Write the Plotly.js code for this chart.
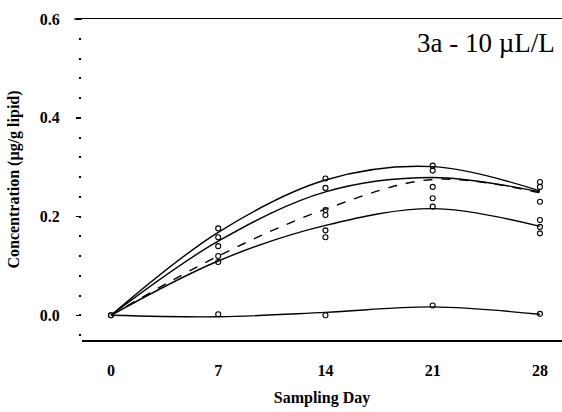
<!DOCTYPE html>
<html>
<head>
<meta charset="utf-8">
<script src="https://cdn.plot.ly/plotly-3.0.1.min.js"></script>
<style>html,body{margin:0;padding:0;background:#fff;}#chart{width:562px;height:412px;}</style>
</head>
<body>
<div id="chart"></div>
<script>
// Sampling days
const days = [0, 7, 14, 21, 28];
// Fitted curves
const curveA = [0, 0.168, 0.274, 0.301, 0.252];
const curveB = [0, 0.150, 0.250, 0.279, 0.250];
const curveC = [0, 0.120, 0.215, 0.275, 0.248];
const curveD = [0, 0.110, 0.182, 0.216, 0.180];
const curveE = [0, -0.003, 0.006, 0.017, 0.002];
// Replicate observations
const repDays = [0, 0, 7, 7, 7, 7, 7, 14, 14, 14, 14, 14, 14, 21, 21, 21, 21, 21, 28, 28, 28, 28, 28, 28, 7, 14, 21, 28];
const repVals = [0, 0, 0.176, 0.158, 0.140, 0.120, 0.108, 0.277, 0.258, 0.213, 0.203, 0.172, 0.158, 0.303, 0.293, 0.260, 0.237, 0.220, 0.270, 0.260, 0.230, 0.193, 0.179, 0.166, 0.002, 0.000, 0.020, 0.003];
const xTicks = [0, 7, 14, 21, 28];
const yTicks = [0.0, 0.2, 0.4, 0.6];
const yTickText = ['0.0', '0.2', '0.4', '0.6'];

function curve(y, dash) {
  return {x: days, y: y, type: 'scatter', mode: 'lines',
    line: {color: '#000', width: 1.4, shape: 'spline', smoothing: 1, dash: dash || 'solid'},
    hoverinfo: 'skip', showlegend: false};
}
const traces = [
  curve(curveA), curve(curveB), curve(curveC, 'dash'), curve(curveD), curve(curveE),
  {x: repDays, y: repVals, type: 'scatter', mode: 'markers',
   marker: {symbol: 'circle-open', size: 5, color: '#000', line: {width: 1.1, color: '#000'}},
   showlegend: false}
];
const serif = 'Liberation Serif, Times New Roman, serif';
const layout = {
  width: 562, height: 412,
  margin: {l: 82, r: 0, t: 19, b: 72},
  paper_bgcolor: '#fff', plot_bgcolor: '#fff',
  showlegend: false,
  font: {family: serif, color: '#000'},
  xaxis: {
    range: [-1.89, 29.44], tickvals: xTicks, ticktext: xTicks.map(String),
    showgrid: false, zeroline: false, showline: true, mirror: true,
    linecolor: '#000', linewidth: 1.5, ticks: '', ticklabelstandoff: 15,
    tickfont: {family: serif, size: 16, color: '#000', weight: 'bold'},
    title: {text: 'Sampling Day', standoff: 14, font: {family: serif, size: 16, color: '#000', weight: 'bold'}}
  },
  yaxis: {
    range: [-0.05, 0.6], tickvals: yTicks, ticktext: yTickText,
    showgrid: false, zeroline: false, showline: false,
    ticks: 'outside', ticklen: 5, tickwidth: 1.5, tickcolor: '#000',
    ticklabelstandoff: 13,
    minor: {dtick: 0.04, tick0: 0, ticks: 'outside', ticklen: 2, tickwidth: 2, tickcolor: '#000'},
    tickfont: {family: serif, size: 16, color: '#000', weight: 'bold'},
    title: {text: 'Concentration (µg/g lipid)', standoff: 16, font: {family: serif, size: 16, color: '#000', weight: 'bold'}}
  },
  shapes: [{type: 'line', xref: 'paper', yref: 'paper', x0: -0.016, x1: 0, y0: 1, y1: 1,
    line: {color: '#000', width: 1.5}}],
  annotations: [{
    text: '3a - 10 µL/L', xref: 'paper', yref: 'paper', x: 0.99, y: 0.925,
    xanchor: 'right', yanchor: 'middle', showarrow: false,
    font: {family: serif, size: 27, color: '#000'}
  }]
};
Plotly.newPlot('chart', traces, layout, {displayModeBar: false, staticPlot: true});
</script>
</body>
</html>
